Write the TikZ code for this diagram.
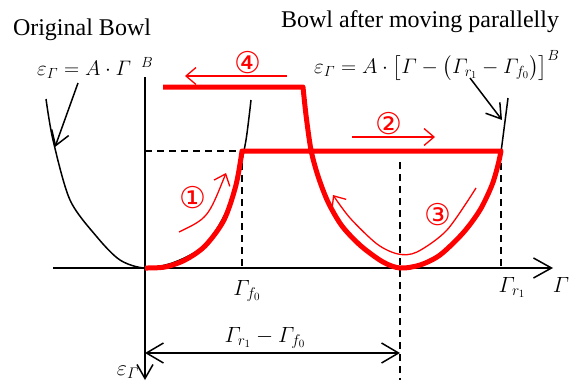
\RequirePackage{fix-cm}
\documentclass[tikz,border=0pt]{standalone}
\usepackage{amsmath}
\usepackage{fontspec}
\setmainfont{Liberation Serif}
\newfontfamily\circfont{DejaVu Sans}
\usetikzlibrary{arrows.meta}

\begin{document}
\begin{tikzpicture}[x=1pt,y=-1pt,
  fatred/.style={red,line width=5pt,line join=round},
  thinred/.style={red,line width=1.3pt},
  bowl/.style={black,line width=1.5pt},
  guide/.style={black,line width=1.5pt,dash pattern=on 7pt off 5pt},
  barb/.style={-{Straight Barb[length=14pt,width=18pt,line width=1.5pt]}},
  redbarb/.style={-{Straight Barb[length=10pt,width=17pt,line width=1.3pt]}},
  circ/.style={red,font=\circfont\fontsize{30}{30}\selectfont},
  lbl/.style={font=\fontsize{22}{24}\selectfont}]
\useasboundingbox (0,0) rectangle (569,380);
% axes
\draw[bowl,-{Straight Barb[length=18pt,width=20pt,line width=1.5pt]}] (53,268) -- (553,268);
\draw[bowl,-{Straight Barb[length=14pt,width=16pt,line width=1.5pt]}] (145,77) -- (145,380);
% dashed guides
\draw[guide] (145,151) -- (240,151);
\draw[guide] (242,151) -- (242,268);
\draw[guide] (400,162) -- (400,380);
\draw[guide] (501,151) -- (501,268);
% original bowl
\draw[bowl] plot[smooth] coordinates {(46,99) (53,140) (70,200) (97,237) (120,260) (145,268)
  (175,262) (205,245) (226,212) (239,172) (246,140) (251,100)};
% moved bowl, upper end
\draw[bowl] (500,160) -- (508,98);
% the loop
\draw[fatred] (163,87) -- plot[smooth] coordinates {(303,87) (306,115) (311,150) (318,176)
  (328,202) (342,226) (361,246) (383,262) (400,268) (420,265) (440,255) (463,233) (480,210)
  (492,185) (498,165) (501,151)}
  -- plot[smooth] coordinates {(242,151) (236,185) (224,220) (205,246) (185,260) (165,267) (145,268)};
% steps
\draw[thinred,redbarb] (179,232) .. controls (208,218) .. (226,173);
\draw[thinred,redbarb] (352,137) -- (435,137);
\draw[thinred,redbarb] plot[smooth] coordinates {(476,188) (447,230) (417,252) (398,254)
  (377,244) (350,218) (333,195)};
\draw[thinred,redbarb] (287,76) -- (185,76);
\node[circ] (s1) at (193,198) {①};
\node[circ] (s2) at (389,124) {②};
\node[circ] (s3) at (438,215) {③};
\node[circ] (s4) at (248,63) {④};
% titles and formulas
\node[font=\fontsize{24}{24}\selectfont,anchor=base] (orig) at (82,35) {Original Bowl};
\node[font=\fontsize{24}{24}\selectfont,anchor=base] (moved) at (420,27) {Bowl after moving parallelly};
\node[font=\fontsize{21}{24}\selectfont,anchor=base west,inner sep=0pt] (f1) at (37,75)
  {$\varepsilon_{\varGamma}=A\cdot\varGamma^{\hspace{10pt}B}$};
\node[font=\fontsize{21}{24}\selectfont,anchor=base west,inner sep=0pt] (f2) at (314,73)
  {$\varepsilon_{\varGamma}=A\cdot\bigl[\varGamma-\bigl(\varGamma_{r_1}-\varGamma_{f_0}\bigr)\bigr]^B$};
\coordinate (a1) at (78,83);
\coordinate (b1) at (55,147);
\coordinate (a2) at (470,78);
\coordinate (b2) at (502,120);
\draw[bowl,barb] (a1) -- (b1);
\draw[bowl,barb] (a2) -- (b2);
% axis labels
\node[lbl,anchor=base] (gf) at (247,295) {$\varGamma_{f_0}$};
\node[lbl,anchor=base] (gr) at (512,292) {$\varGamma_{r_1}$};
\node[lbl,anchor=base] (g) at (561,292) {$\varGamma$};
\node[lbl,anchor=base] (e) at (128,375) {$\varepsilon_{\varGamma}$};
% shift
\coordinate (d0) at (145,353);
\coordinate (d1) at (400,353);
\draw[bowl,{Straight Barb[length=17pt,width=20pt,line width=1.5pt]}-{Straight Barb[length=17pt,width=20pt,line width=1.5pt]}] (d0) -- (d1);
\node[lbl,anchor=base] (dl) at (265,342) {$\varGamma_{r_1}-\varGamma_{f_0}$};
\end{tikzpicture}
\end{document}
